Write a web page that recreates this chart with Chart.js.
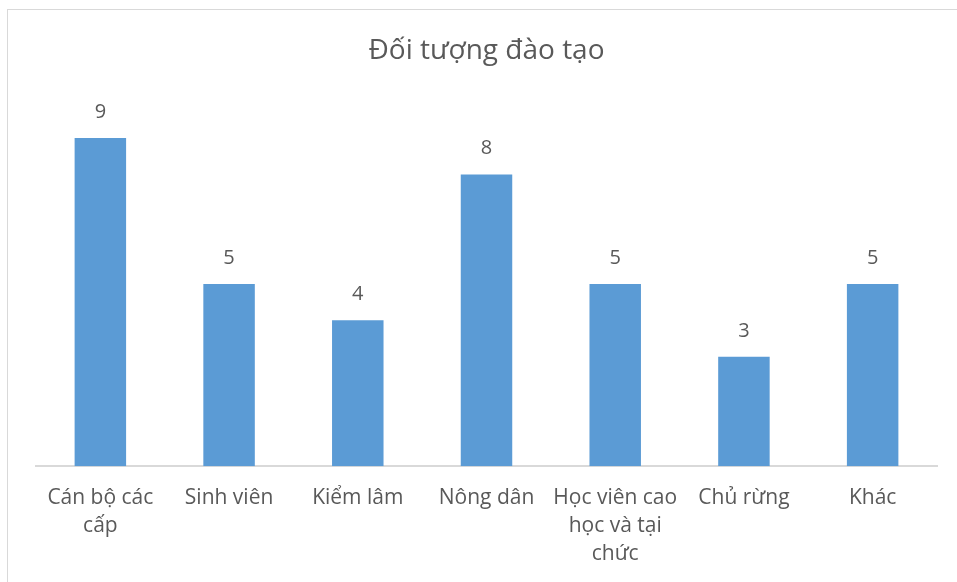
<!DOCTYPE html>
<html>
<head>
<meta charset="utf-8">
<script src="https://cdn.jsdelivr.net/npm/chart.js@4.4.0/dist/chart.umd.min.js"></script>
<style>
  html, body { margin: 0; padding: 0; background: #fff; }
  #wrap { position: relative; width: 957px; height: 582px; }
  #frame {
    position: absolute; left: 7px; top: 9px; width: 980px; height: 600px;
    border: 1px solid #d9d9d9; pointer-events: none;
  }
</style>
</head>
<body>
<div id="wrap">
  <canvas id="chart" width="957" height="582"></canvas>
  <div id="frame"></div>
</div>
<script>
// ---------------------- DATA ------------------------
const chartTitle = "Đối tượng đào tạo";
const categories = [
  ["Cán bộ các", "cấp"],
  "Sinh viên",
  "Kiểm lâm",
  "Nông dân",
  ["Học viên cao", "học và tại", "chức"],
  "Chủ rừng",
  "Khác",
];
const counts = [9, 5, 4, 8, 5, 3, 5];

const FONT = "'Open Sans', 'Noto Sans', sans-serif";
const TEXT_COLOR = "#595959";

// value labels above each bar
const valueLabels = {
  id: "valueLabels",
  afterDatasetsDraw(chart) {
    const ctx = chart.ctx;
    const meta = chart.getDatasetMeta(0);
    ctx.save();
    ctx.fillStyle = TEXT_COLOR;
    ctx.font = "20px " + FONT;
    ctx.textAlign = "center";
    ctx.textBaseline = "middle";
    meta.data.forEach((bar, i) => {
      ctx.fillText(String(counts[i]), bar.x, bar.y - 26);
    });
    ctx.restore();
  },
};

const ctx = document.getElementById("chart").getContext("2d");
new Chart(ctx, {
  type: "bar",
  data: {
    labels: categories,
    datasets: [
      {
        data: counts,
        backgroundColor: "#5b9bd5",
        categoryPercentage: 1,
        barPercentage: 0.4,
      },
    ],
  },
  options: {
    responsive: false,
    animation: false,
    layout: { padding: { left: 36, right: 20, top: 10, bottom: 4 } },
    plugins: {
      legend: { display: false },
      tooltip: { enabled: false },
      title: {
        display: true,
        text: chartTitle,
        color: TEXT_COLOR,
        font: { family: FONT, size: 28, weight: "normal" },
        padding: { top: 24, bottom: 34 },
      },
    },
    scales: {
      y: {
        display: false,
        min: 0,
        max: 10,
      },
      x: {
        grid: { display: false },
        border: { display: true, color: "#d9d9d9", width: 2 },
        ticks: {
          color: TEXT_COLOR,
          font: { family: FONT, size: 21, lineHeight: 1.33 },
          padding: 10,
          autoSkip: false,
          maxRotation: 0,
        },
      },
    },
  },
  plugins: [valueLabels],
});
</script>
</body>
</html>
